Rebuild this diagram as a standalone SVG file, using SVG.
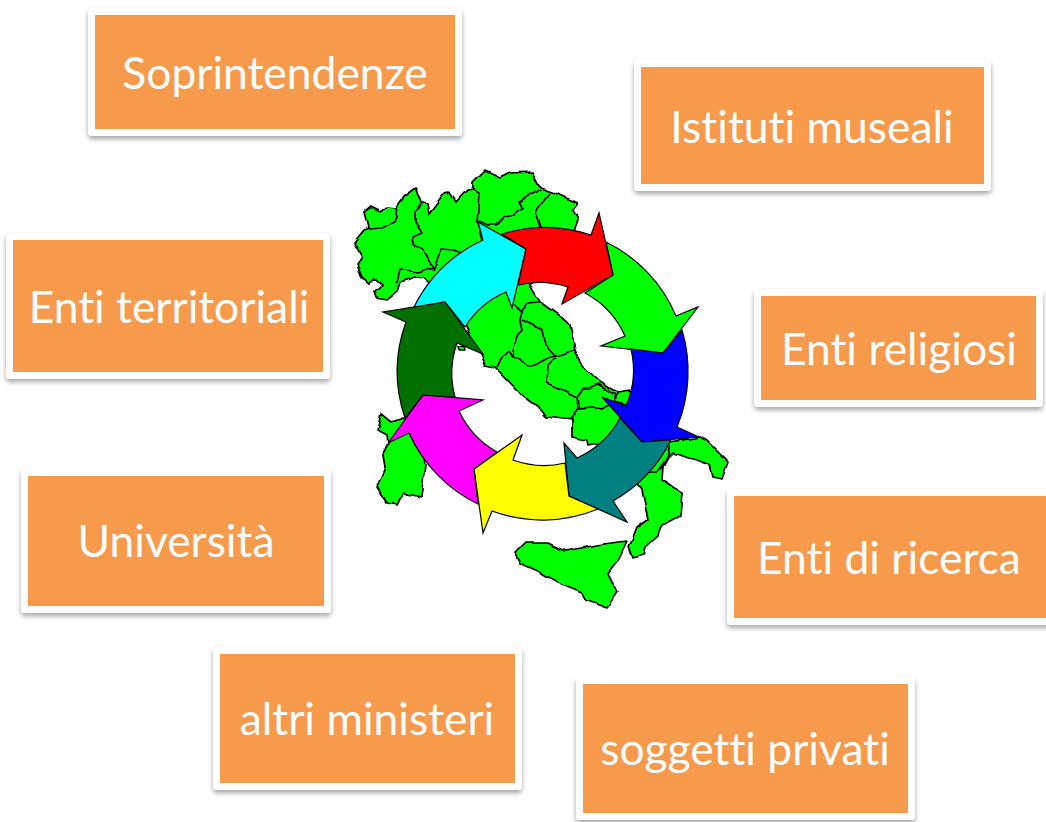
<svg xmlns="http://www.w3.org/2000/svg" width="1046" height="822" viewBox="0 0 1046 822">
<style>
.frame{fill:#fff;filter:url(#shadow)}
.box{fill:#f79a4b}
.lbl{font-family:"Lato","Liberation Sans",sans-serif;font-size:44.4px;font-variant-ligatures:none;fill:#fff;text-anchor:middle}
.land{fill:#00ff00;stroke:#000;stroke-width:1.7;stroke-linejoin:round}
.border{fill:none;stroke:#000;stroke-width:1.7;stroke-linejoin:round}
.arrow{stroke:#000;stroke-width:1.2;stroke-linejoin:miter}
</style>
<defs>
<filter id="shadow" x="-5%" y="-8%" width="110%" height="120%">
<feDropShadow dx="0" dy="3" stdDeviation="2.5" flood-color="#000" flood-opacity="0.35"/>
</filter>
<filter id="rough" filterUnits="userSpaceOnUse" x="340" y="160" width="400" height="460">
<feTurbulence type="fractalNoise" baseFrequency="0.08" numOctaves="1" seed="4"/>
<feDisplacementMap in="SourceGraphic" scale="6" xChannelSelector="R" yChannelSelector="G"/>
</filter>
</defs>
<g id="map" filter="url(#rough)">
<path class="land" d="M354,242L364,230L368,228L364,212L370,207L380,212L387,207L395,208L403,197L415,188L422,202L427,203L429,213L445,192L448,191L455,202L467,189L473,188L473,183L485,171L500,178L510,173L532,172L540,188L552,192L578,203L573,210L578,220L575,228L570,260L535,280L530,285L540,302L562,318L570,325L575,350L582,365L600,382L613,390L617,392L630,390L640,420L670,442L700,437L707,441L728,462L722,479L713,477L710,465L697,460L672,453L667,458L663,466L662,480L682,493L680,515L662,525L658,535L645,547L643,555L633,558L629,547L637,527L648,519L642,490L638,485L625,470L598,443L588,445L587,440L572,437L572,420L547,417L542,410L520,393L495,367L485,365L466,327L445,295L427,282L423,278L415,277L400,282L397,292L387,300L377,298L375,292L382,285L375,278L369,283L362,277L357,265L363,257Z"/>
<path class="land" d="M457,346L465,345L466,350L458,350Z"/>
<path class="land" d="M378,430L382,414L392,422L403,418L420,430L425,465L421,497L403,493L397,505L387,503L377,487L385,467L383,455L388,442L387,435Z"/>
<path class="land" d="M515,553L525,543L548,543L565,551L597,545L627,541L618,560L608,573L617,592L607,608L585,600L582,592L557,582L540,572L520,563Z"/>
<path class="border" d="M368,229L383,228L395,223L397,217L395,208"/>
<path class="border" d="M422,202L415,212L415,222L422,233L413,237L415,247L423,250L433,267L418,272L400,269L397,282"/>
<path class="border" d="M433,270L442,249L453,250L462,253"/>
<path class="border" d="M473,188L480,193L478,222L483,240"/>
<path class="border" d="M477,220L488,225L497,225L505,217L515,215L523,208L518,202L540,190"/>
<path class="border" d="M550,193L535,212L540,227"/>
<path class="border" d="M513,304L522,312L525,304L540,303"/>
<path class="border" d="M522,312L520,320L522,330L517,337L512,355"/>
<path class="border" d="M522,320L542,330L545,345L555,356L548,358L535,365L527,367L520,358L512,356L508,350L503,355L497,367"/>
<path class="border" d="M555,356L575,350"/>
<path class="border" d="M555,358L548,365L547,383L557,387L577,397L578,408L570,420"/>
<path class="border" d="M577,397L583,388L589,388L598,384L615,395L615,402L608,406L603,409L593,407L578,408"/>
<path class="border" d="M617,392L615,402L630,406"/>
<path class="border" d="M670,445L667,458L657,472L648,472"/>
<path class="border" d="M663,466L657,472"/>
</g>
<g id="cycle-arrows">
<path id="arrow-green" class="arrow" fill="#00ff00" d="M606,242A145,145 0 0 1 676,316L698,307L663,353L601,346L625,336A91,91 0 0 0 585,293L613,275Z"/>
<path id="arrow-blue" class="arrow" fill="#0000ff" d="M682,330A145,145 0 0 1 677,427L699,437L642,442L602,397L626,406A91,91 0 0 0 631,349L663,353Z"/>
<path id="arrow-teal" class="arrow" fill="#008080" d="M671,440A145,145 0 0 1 613,501L627,522L569,496L564,443L577,458A91,91 0 0 0 620,418L642,442Z"/>
<path id="arrow-yellow" class="arrow" fill="#ffff00" d="M598,509A145,145 0 0 1 492,511L483,533L474,469L522,435L513,460A91,91 0 0 0 565,463L569,496Z"/>
<path id="arrow-magenta" class="arrow" fill="#ff00ff" d="M478,504A145,145 0 0 1 409,433L388,443L423,395L483,400L459,411A91,91 0 0 0 497,452L474,469Z"/>
<path id="arrow-darkgreen" class="arrow" fill="#007000" d="M405,418A145,145 0 0 1 406,322L383,312L445,302L483,354L457,343A91,91 0 0 0 455,397L423,395Z"/>
<path id="arrow-cyan" class="arrow" fill="#00ffff" d="M414,307A145,145 0 0 1 483,240L478,222L526,249L512,308L506,292A91,91 0 0 0 465,327L445,302Z"/>
<path id="arrow-red" class="arrow" fill="#ff0000" d="M502,234A145,145 0 0 1 591,235L599,213L613,275L562,304L568,287A91,91 0 0 0 518,285L526,249Z"/>
</g>
<g id="soprintendenze"><rect class="frame" x="88" y="8" width="374" height="128" rx="4"/><rect class="box" x="95" y="15" width="360" height="114"/><text class="lbl" x="275" y="89">Soprintendenze</text></g>
<g id="istituti-museali"><rect class="frame" x="634" y="60" width="357" height="131" rx="4"/><rect class="box" x="641" y="67" width="343" height="117"/><text class="lbl" x="812" y="143">Istituti museali</text></g>
<g id="enti-territoriali"><rect class="frame" x="6" y="233" width="324" height="146" rx="4"/><rect class="box" x="13" y="240" width="310" height="132"/><text class="lbl" x="169" y="323">Enti territoriali</text></g>
<g id="enti-religiosi"><rect class="frame" x="754" y="289" width="289" height="118" rx="4"/><rect class="box" x="761" y="296" width="275" height="104"/><text class="lbl" x="899" y="365">Enti religiosi</text></g>
<g id="universita"><rect class="frame" x="21" y="469" width="310" height="144" rx="4"/><rect class="box" x="28" y="476" width="296" height="130"/><text class="lbl" x="176" y="557">Università</text></g>
<g id="enti-di-ricerca"><rect class="frame" x="727" y="489" width="326" height="136" rx="4"/><rect class="box" x="734" y="496" width="312" height="122"/><text class="lbl" x="889" y="574">Enti di ricerca</text></g>
<g id="altri-ministeri"><rect class="frame" x="213" y="647" width="309" height="143" rx="4"/><rect class="box" x="220" y="654" width="295" height="129"/><text class="lbl" x="367" y="735">altri ministeri</text></g>
<g id="soggetti-privati"><rect class="frame" x="576" y="677" width="339" height="143" rx="4"/><rect class="box" x="583" y="684" width="325" height="129"/><text class="lbl" x="745" y="765">soggetti privati</text></g>
</svg>
